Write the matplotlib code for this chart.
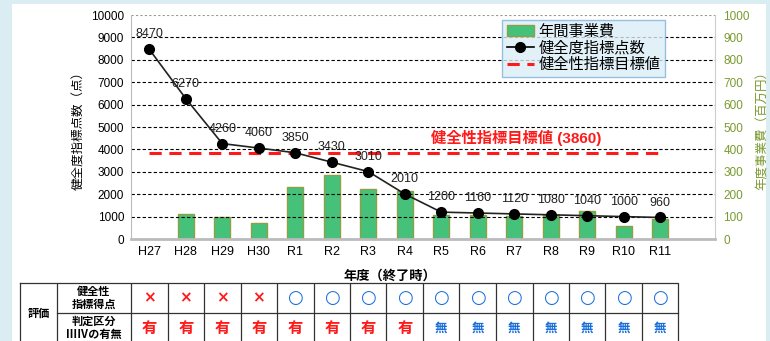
import matplotlib
matplotlib.use("Agg")
import matplotlib.pyplot as plt
from matplotlib.patches import Rectangle
from matplotlib.lines import Line2D
from matplotlib.patches import Patch
import numpy as np

plt.rcParams['font.family'] = ['Liberation Sans', 'Noto Sans CJK JP', 'DejaVu Sans']

years = ["H27", "H28", "H29", "H30", "R1", "R2", "R3", "R4", "R5", "R6", "R7", "R8", "R9", "R10", "R11"]
scores = [8470, 6270, 4260, 4060, 3850, 3430, 3010, 2010, 1200, 1160, 1120, 1080, 1040, 1000, 960]
budget = [0, 110, 97, 71, 232, 284, 223, 216, 109, 106, 101, 106, 125, 60, 88]
target = 3860
eval_score = ["×", "×", "×", "×", "○", "○", "○", "○", "○", "○", "○", "○", "○", "○", "○"]
eval_class = ["有", "有", "有", "有", "有", "有", "有", "有", "無", "無", "無", "無", "無", "無", "無"]

W, H = 770, 341
fig = plt.figure(figsize=(W / 100, H / 100), dpi=100)
fig.patch.set_facecolor('#daedf3')
# white panel
fig.patches.append(Rectangle((12 / W, 0), (766 - 12) / W, 1 - 4 / H, transform=fig.transFigure,
                             facecolor='white', edgecolor='none', zorder=-5))

L, R, T, B = 131, 715, 15, 239
ax = fig.add_axes([L / W, 1 - B / H, (R - L) / W, (B - T) / H])
ax.set_facecolor('none')
ax2 = ax.twinx()
ax.set_zorder(3)
ax2.set_zorder(2)

x = np.arange(len(years))
ax.set_xlim(-0.5, 15.5)
ax.set_ylim(0, 10000)
ax2.set_ylim(0, 1000)

# grid
for v in range(1000, 10001, 1000):
    ax.axhline(v, color='black' if v < 10000 else '#999999', lw=0.8,
               ls=(0, (3, 2)) if v < 10000 else (0, (2, 2)), zorder=0)

ax2.bar(x, budget, width=0.45, color='#45c17a', edgecolor='#8f9f45', lw=1.0, zorder=2)

ax.plot(x, scores, color='#222222', lw=1.2, marker='o', ms=7, mfc='black', mec='black', zorder=5)
for xi, s in zip(x, scores):
    ax.text(xi, s + 660, f"{s}", ha='center', va='center', fontsize=9, color='#222222', zorder=6)

ax.plot([x[0], x[-1]], [target, target], color='#ff1a1a', lw=2.2, ls=(0, (4, 2.5)), zorder=4)
ax.text(10.05, target + 630, f"健全性指標目標値 ({target})", color='#ff1a1a', fontsize=11,
        fontweight='bold', ha='center', va='center', zorder=6)

ax.set_yticks(range(0, 10001, 1000))
ax.set_yticklabels([str(v) for v in range(0, 10001, 1000)], fontsize=8.5)
ax2.set_yticks(range(0, 1001, 100))
ax2.set_yticklabels([str(v) for v in range(0, 1001, 100)], fontsize=8.5, color='#7a9a2e')
ax.set_xticks(x)
ax.set_xticklabels(years, fontsize=9)
ax.tick_params(axis='both', length=0, pad=5)
ax2.tick_params(axis='y', length=0, pad=6)

for a in (ax, ax2):
    a.spines['top'].set_visible(False)
ax.spines['right'].set_visible(False)
ax2.spines['left'].set_visible(False)
ax.spines['left'].set_color('#bbbbbb')
ax.spines['bottom'].set_color('#bbbbbb')
ax.spines['bottom'].set_linewidth(2)
ax2.spines['right'].set_color('#cccccc')
ax2.spines['bottom'].set_visible(False)

ax.set_ylabel("健全度指標点数（点）", fontsize=9)
ax.yaxis.set_label_coords((85 - L) / (R - L), 0.5)
ax2.set_ylabel("年度事業費（百万円）", fontsize=9, color='#7a9a2e')
ax2.yaxis.set_label_coords((757 - L) / (R - L), 0.5)
ax.set_xlabel("年度（終了時）", fontsize=9.5, fontweight='bold')
ax.xaxis.set_label_coords((390 - L) / (R - L), -(270 - B) / (B - T))

handles = [Patch(facecolor='#45c17a', edgecolor='#8f9f45'),
           Line2D([], [], color='black', marker='o', ms=7, lw=1.2),
           Line2D([], [], color='#ff1a1a', lw=2.2, ls=(0, (4, 2.5)))]
leg = ax.legend(handles, ["年間事業費", "健全度指標点数", "健全性指標目標値"],
                loc='upper left', bbox_to_anchor=((502 - L) / (R - L), 1 - (20 - T) / (B - T)),
                fontsize=11, frameon=True, fancybox=False, borderpad=0.3, labelspacing=0.15,
                handlelength=1.8, handletextpad=0.3, borderaxespad=0)
leg.get_frame().set_facecolor('#dbeef6')
leg.get_frame().set_edgecolor('#7fb3d9')
leg.get_frame().set_linewidth(1.0)
leg.set_zorder(10)

# table
tT, tB = 283, 343
tax = fig.add_axes([0, 1 - tB / H, 1, (tB - tT) / H])
tax.set_zorder(5)
tax.set_facecolor('none')
unit = (R - L) / 16.0
u0 = -0.5 - L / unit
u1 = -0.5 + (W - L) / unit
tax.set_xlim(u0, u1)
tax.set_ylim(2, 0)
tax.axis('off')
xl = -0.5 - (L - 20) / unit
xm = -0.5 - (L - 57) / unit
xr = len(years) - 0.5
lc = '#333333'
tax.plot([xl, xr, xr, xl, xl], [0, 0, 2, 2, 0], color=lc, lw=0.9, clip_on=False)
tax.plot([xm, xm], [0, 2], color=lc, lw=0.9)
tax.plot([xm, xr], [1, 1], color=lc, lw=0.9)
for i in range(len(years)):
    tax.plot([i - 0.5, i - 0.5], [0, 2], color=lc, lw=0.9)
tax.text((xl + xm) / 2, 1, "評価", ha='center', va='center', fontsize=8, fontweight='bold',
         family='Noto Sans CJK JP')
tax.text((xm - 0.5) / 2, 0.5, "健全性\n指標得点", ha='center', va='center', fontsize=8,
         fontweight='bold', family='Noto Sans CJK JP', linespacing=1.0)
tax.text((xm - 0.5) / 2, 1.5, "判定区分\nⅢⅣの有無", ha='center', va='center', fontsize=8,
         fontweight='bold', family='Noto Sans CJK JP', linespacing=1.0)
for i, (s, c) in enumerate(zip(eval_score, eval_class)):
    if s == "×":
        tax.text(i, 0.5, "×", ha='center', va='center', fontsize=11, color='#ff1a1a',
                 fontweight='bold', family='DejaVu Sans')
    else:
        tax.text(i, 0.5, "○", ha='center', va='center', fontsize=13, color='#1a6fd9',
                 family='DejaVu Sans')
    if c == "有":
        tax.text(i, 1.5, c, ha='center', va='center', fontsize=11, color='#ff1a1a',
                 fontweight='bold', family='Noto Sans CJK JP')
    else:
        tax.text(i, 1.5, c, ha='center', va='center', fontsize=9, color='#1a6fd9',
                 fontweight='bold', family='Noto Sans CJK JP')

fig.savefig("out.png", dpi=100, facecolor=fig.get_facecolor())
